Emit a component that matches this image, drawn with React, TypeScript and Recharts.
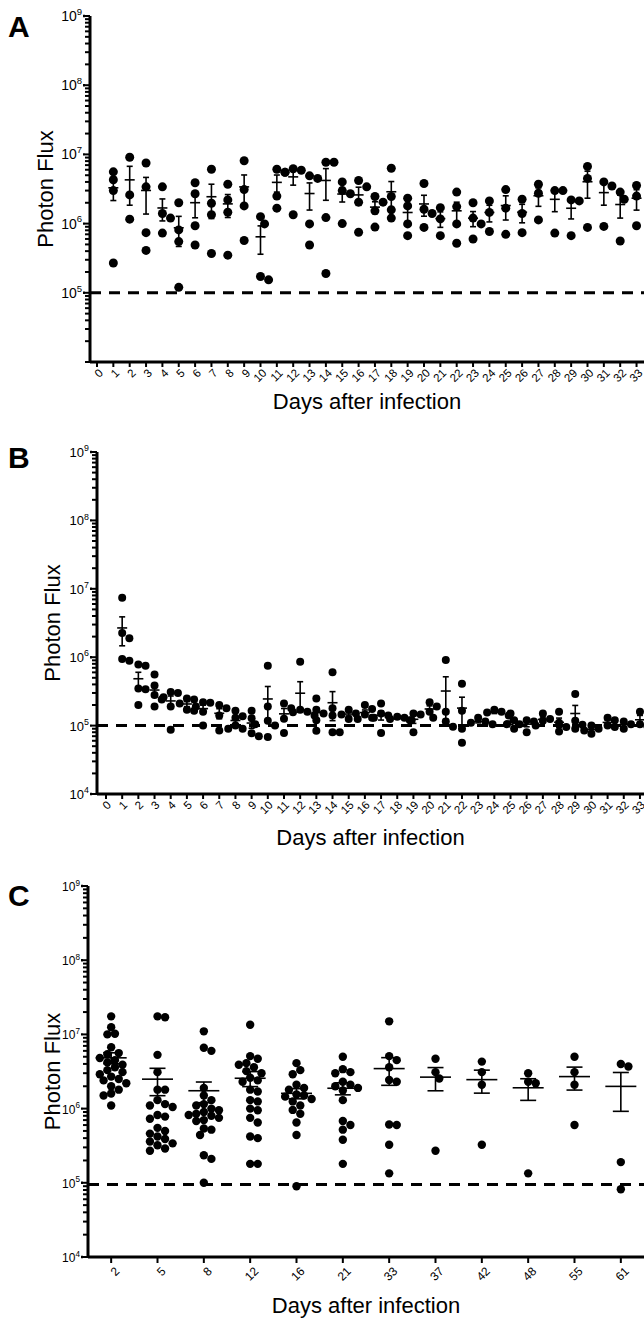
import { ScatterChart, Scatter, XAxis, YAxis, ReferenceLine, ErrorBar, Label } from 'recharts';

const FONT = '"Liberation Sans", Arial, Helvetica, sans-serif';

// Panel A: daily imaging, days 0-33
const daysA = Array.from({ length: 33 }, (_, i) => i + 1);
const ticksA = Array.from({ length: 34 }, (_, i) => i);
const fluxA = [
    [5.6e6, 4.3e6, 3.0e6, 2.7e5],
    [9.1e6, 2.6e6, 1.16e6],
    [7.5e6, 3.4e6, 7.4e5, 4.1e5],
    [3.4e6, 1.4e6, 1.2e6, 7.3e5],
    [2.0e6, 8.1e5, 5.5e5, 1.2e5],
    [3.9e6, 2.7e6, 9.3e5, 4.9e5],
    [6.1e6, 1.97e6, 1.34e6, 3.7e5],
    [3.7e6, 2.2e6, 1.46e6, 3.5e5],
    [8.1e6, 3.1e6, 1.8e6, 5.7e5],
    [1.26e6, 9.9e5, 1.72e5, 1.54e5],
    [6.1e6, 5.5e6, 2.5e6, 1.67e6],
    [6.2e6, 5.9e6, 5.5e6, 1.34e6],
    [4.9e6, 4.5e6, 9.9e5, 4.9e5],
    [7.7e6, 7.7e6, 1.22e6, 1.9e5],
    [4.0e6, 3.0e6, 2.7e6, 1.0e6],
    [4.2e6, 3.4e6, 2.04e6, 7.5e5],
    [2.46e6, 2.04e6, 1.53e6, 8.9e5],
    [6.3e6, 2.46e6, 1.58e6, 1.2e6],
    [2.33e6, 1.8e6, 9.9e5, 6.7e5],
    [3.8e6, 1.61e6, 1.4e6, 8.8e5],
    [1.7e6, 1.17e6, 6.7e5],
    [2.85e6, 1.76e6, 9.9e5, 5.2e5],
    [2.0e6, 1.2e6, 9.9e5, 6.0e5],
    [2.13e6, 1.45e6, 7.7e5],
    [3.1e6, 1.67e6, 7.0e5],
    [2.25e6, 1.4e6, 7.4e5],
    [3.7e6, 2.75e6, 1.13e6],
    [3.0e6, 3.0e6, 7.3e5],
    [2.2e6, 2.13e6, 6.7e5],
    [6.7e6, 4.5e6, 8.8e5],
    [4.0e6, 3.5e6, 9.1e5],
    [2.85e6, 2.25e6, 5.6e5],
    [3.55e6, 2.5e6, 9.3e5],
];

// Panel B: daily imaging, days 0-33
const daysB = Array.from({ length: 33 }, (_, i) => i + 1);
const ticksB = Array.from({ length: 34 }, (_, i) => i);
const fluxB = [
    [7.4e6, 2.26e6, 1.9e6, 9.4e5, 8.9e5],
    [7.8e5, 7.5e5, 3.5e5, 3.4e5, 2.0e5],
    [5.6e5, 3.85e5, 2.8e5, 2.4e5, 1.9e5],
    [3.1e5, 3.0e5, 2.6e5, 1.9e5, 8.7e4],
    [2.5e5, 2.4e5, 2.1e5, 1.7e5, 1.65e5],
    [2.2e5, 2.15e5, 1.9e5, 1.6e5, 1.0e5],
    [2.0e5, 1.8e5, 1.4e5, 8.5e4],
    [1.65e5, 1.37e5, 1.3e5, 1.0e5, 9.0e4, 9.0e4],
    [1.65e5, 1.28e5, 1.05e5, 7.7e4, 7.0e4],
    [7.5e5, 1.9e5, 1.18e5, 1.0e5, 6.8e4],
    [2.1e5, 1.8e5, 1.26e5, 7.8e4],
    [8.6e5, 1.7e5, 1.6e5, 1.57e5, 1.4e5],
    [2.5e5, 1.7e5, 1.5e5, 1.2e5, 8.4e4],
    [6.0e5, 1.8e5, 1.4e5, 8.0e4, 8.0e4],
    [1.7e5, 1.5e5, 1.45e5, 1.25e5],
    [2.0e5, 1.75e5, 1.45e5, 1.3e5, 1.25e5],
    [2.1e5, 1.5e5, 1.4e5, 1.3e5, 7.8e4],
    [1.35e5, 1.3e5, 1.25e5, 1.2e5],
    [1.5e5, 1.45e5, 1.2e5, 8.0e4],
    [2.2e5, 1.9e5, 1.6e5, 1.3e5],
    [9.1e5, 1.6e5, 1.15e5, 9.6e4],
    [4.1e5, 1.65e5, 9.0e4, 5.6e4],
    [1.3e5, 1.15e5, 1.1e5, 1.05e5],
    [1.7e5, 1.6e5, 1.55e5, 1.4e5],
    [1.5e5, 1.2e5, 1.05e5, 9.0e4],
    [1.2e5, 1.15e5, 1.05e5, 8.0e4],
    [1.5e5, 1.25e5, 1.18e5, 1.0e5],
    [1.6e5, 1.1e5, 9.5e4, 8.2e4],
    [2.9e5, 1.18e5, 1.03e5, 9.0e4],
    [1.0e5, 9.0e4, 8.5e4, 7.6e4],
    [1.3e5, 1.2e5, 1.0e5, 9.5e4],
    [1.15e5, 1.05e5, 9.0e4],
    [1.6e5, 1.05e5, 1.0e5],
];

// Panel C: selected days
const daysC = ['2', '5', '8', '12', '16', '21', '33', '37', '42', '48', '55', '61'];
const fluxC = [
    [1.75e7, 1.25e7, 1.02e7, 1.0e7, 6.7e6, 5.6e6, 5.4e6, 4.8e6, 4.5e6, 4.2e6, 3.9e6, 3.6e6,
        3.3e6, 3.1e6, 2.9e6, 2.7e6, 2.5e6, 2.4e6, 2.2e6, 2.0e6, 1.8e6, 1.6e6, 1.5e6, 1.1e6],
    [1.75e7, 1.7e7, 5.3e6, 3.1e6, 1.8e6, 1.8e6, 1.3e6, 1.15e6, 1.05e6, 1.1e6, 8.2e5, 7.8e5,
        7.3e5, 5.5e5, 5.0e5, 4.6e5, 4.2e5, 3.9e5, 3.6e5, 3.4e5, 3.2e5, 2.9e5, 2.7e5],
    [1.1e7, 6.6e6, 6.0e6, 1.9e6, 1.5e6, 1.3e6, 1.15e6, 1.1e6, 1.0e6, 9.5e5, 9.0e5, 8.5e5,
        8.2e5, 8.0e5, 7.5e5, 7.0e5, 6.8e5, 5.4e5, 5.2e5, 4.4e5, 2.35e5, 2.1e5, 1.0e5],
    [1.35e7, 5.1e6, 4.7e6, 4.1e6, 3.9e6, 3.6e6, 3.2e6, 3.0e6, 2.6e6, 2.4e6, 2.3e6, 1.8e6,
        1.7e6, 1.3e6, 1.25e6, 1.0e6, 9.5e5, 7.5e5, 6.5e5, 4.2e5, 4.0e5, 1.8e5, 1.8e5],
    [4.1e6, 3.3e6, 2.9e6, 2.1e6, 1.9e6, 1.8e6, 1.55e6, 1.5e6, 1.45e6, 1.35e6, 1.25e6, 1.1e6,
        9.6e5, 8.5e5, 6.5e5, 4.4e5, 9.0e4],
    [5.0e6, 3.4e6, 3.1e6, 3.0e6, 2.3e6, 2.1e6, 2.0e6, 1.9e6, 1.75e6, 1.3e6, 6.8e5, 6.0e5,
        5.2e5, 3.8e5, 1.8e5],
    [1.5e7, 5.1e6, 4.5e6, 3.6e6, 2.43e6, 2.3e6, 6.1e5, 6.0e5, 3.25e5, 1.34e5],
    [4.7e6, 3.1e6, 2.55e6, 2.7e5],
    [4.3e6, 3.1e6, 2.1e6, 3.25e5],
    [3.0e6, 2.3e6, 2.2e6, 1.34e5],
    [5.0e6, 3.1e6, 2.1e6, 6.0e5],
    [4.0e6, 3.7e6, 1.9e5, 8.2e4],
];

const WIDTH = 644;

// log ticks: 1..9 x 10^4 .. 10^8, plus 10^9
const yTicks: number[] = [];
for (let p = 4; p < 9; p++) for (let m = 1; m < 10; m++) yTicks.push(m * Math.pow(10, p));
yTicks.push(1e9);

function stats(vals: number[]) {
    const n = vals.length;
    const mean = vals.reduce((a, b) => a + b, 0) / n;
    const sd = Math.sqrt(vals.reduce((a, b) => a + (b - mean) ** 2, 0) / (n - 1));
    return { mean, sem: sd / Math.sqrt(n) };
}

// simple beeswarm so overlapping dots spread sideways like the original
function swarm(vals: number[], r: number, pxDec: number, pxUnit: number) {
    const order = vals.map((_, i) => i).sort((a, b) => vals[b] - vals[a]);
    const placed: { dx: number; py: number }[] = [];
    const out = new Array(vals.length).fill(0);
    const minD = r * 1.7;
    for (const i of order) {
        const py = -Math.log10(vals[i]) * pxDec;
        let dx = 0;
        for (let k = 0; k < 60; k++) {
            const cand = k === 0 ? 0 : (k % 2 ? 1 : -1) * Math.ceil(k / 2) * r * 0.9;
            if (placed.every(p => (p.dx - cand) ** 2 + (p.py - py) ** 2 >= minD * minD)) {
                dx = cand;
                break;
            }
        }
        placed.push({ dx, py });
        out[i] = dx / pxUnit;
    }
    return out;
}

interface PanelProps {
    letter: string;
    top: number;
    height: number;
    plotTop: number;
    plotHeight: number;
    axisWidth: number;
    xAxisHeight: number;
    xDomain: [number, number];
    xTicks: number[];
    xLabels?: string[];
    groupX: number[];
    groups: number[][];
    minLabel: number;
    dotR: number;
    meanHalf: number;
    capHalf: number;
    limit: number;
    titleOffset: number;
    fluxX: number;
    yFont: number;
    xFont: number;
    xTickLen: number;
    xLabelDx: number;
    xTickMargin: number;
    letterTop: number;
}

function Panel(p: PanelProps) {
    const pxUnit = (WIDTH - p.axisWidth) / (p.xDomain[1] - p.xDomain[0]);
    const pxDec = p.plotHeight / 5;

    const points = p.groups.flatMap((vals, gi) => {
        const offs = swarm(vals, p.dotR, pxDec, pxUnit);
        return vals.map((v, j) => ({ x: p.groupX[gi] + offs[j], y: v }));
    });
    const means = p.groups.map((vals, gi) => {
        const s = stats(vals);
        return { x: p.groupX[gi], y: s.mean, err: s.sem };
    });

    // tick lines come from the axis itself; this draws the 10^n labels only
    const YTick = (props: any) => {
        const { x, y, payload } = props;
        const lg = Math.log10(payload.value);
        const pw = Math.round(lg);
        const major = Math.abs(lg - pw) < 1e-6;
        if (!major || pw < p.minLabel) return <g />;
        return (
            <g>
                <line x1={x + 2} x2={x} y1={y} y2={y} stroke="#000" strokeWidth={2.4} />
                <text x={x - 1} y={y + 5} textAnchor="end" fontSize={p.yFont} fontFamily={FONT} fill="#000">
                    10<tspan dy={-p.yFont * 0.45} fontSize={p.yFont * 0.68}>{pw}</tspan>
                </text>
            </g>
        );
    };

    const dotShape = (s: any) => <circle cx={s.cx} cy={s.cy} r={p.dotR} fill="#000" />;
    const meanShape = (s: any) => (
        <line x1={s.cx - p.meanHalf} x2={s.cx + p.meanHalf} y1={s.cy} y2={s.cy} stroke="#000" strokeWidth={1.6} />
    );

    return (
        <div style={{ position: 'absolute', left: 0, top: p.top, width: WIDTH, height: p.height }}>
            <ScatterChart
                width={WIDTH}
                height={p.height}
                margin={{ top: p.plotTop, right: 0, bottom: 0, left: 0 }}
            >
                <XAxis
                    type="number"
                    dataKey="x"
                    domain={p.xDomain}
                    ticks={p.xTicks}
                    interval={0}
                    allowDataOverflow
                    height={p.xAxisHeight}
                    axisLine={{ stroke: '#000', strokeWidth: 3 }}
                    tickLine={{ stroke: '#000', strokeWidth: 2 }}
                    tickSize={p.xTickLen}
                    tickMargin={p.xTickMargin}
                    angle={-45}
                    textAnchor="end"
                    tickFormatter={(v: number) => (p.xLabels ? p.xLabels[v] : String(v))}
                    tick={{ fontSize: p.xFont, fill: '#000', fontFamily: FONT, dx: p.xLabelDx }}
                >
                    <Label
                        value="Days after infection"
                        position="insideBottom"
                        offset={p.titleOffset}
                        fontSize={22}
                        fontFamily={FONT}
                        fill="#000"
                    />
                </XAxis>
                <YAxis
                    type="number"
                    dataKey="y"
                    scale="log"
                    domain={[1e4, 1e9]}
                    allowDataOverflow
                    ticks={yTicks}
                    interval={0}
                    width={p.axisWidth}
                    axisLine={{ stroke: '#000', strokeWidth: 3 }}
                    tickLine={{ stroke: '#000', strokeWidth: 2 }}
                    tickSize={5}
                    tickMargin={2}
                    tick={YTick}
                >
                    <Label
                        content={(lp: any) => {
                            const vb = lp.viewBox;
                            const cy = vb.y + vb.height / 2;
                            return (
                                <text
                                    transform={`translate(${p.fluxX}, ${cy}) rotate(-90)`}
                                    textAnchor="middle"
                                    fontSize={22}
                                    fontFamily={FONT}
                                    fill="#000"
                                >
                                    Photon Flux
                                </text>
                            );
                        }}
                    />
                </YAxis>
                <ReferenceLine y={p.limit} stroke="#000" strokeWidth={3} strokeDasharray="11 8" />
                <Scatter data={points} shape={dotShape} isAnimationActive={false} />
                <Scatter data={means} shape={meanShape} isAnimationActive={false}>
                    <ErrorBar dataKey="err" direction="y" width={p.capHalf} stroke="#000" strokeWidth={1.6} />
                </Scatter>
            </ScatterChart>
            <div
                style={{
                    position: 'absolute',
                    left: 8,
                    top: p.letterTop,
                    fontFamily: FONT,
                    fontWeight: 700,
                    fontSize: 30,
                    lineHeight: '30px',
                    color: '#000',
                }}
            >
                {p.letter}
            </div>
        </div>
    );
}

export default function App() {
    return (
        <div
            style={{
                position: 'absolute',
                left: 0,
                top: 0,
                width: WIDTH,
                height: 1319,
                overflow: 'hidden',
                background: '#fff',
            }}
        >
            <Panel
                letter="A"
                top={0}
                height={422}
                plotTop={16}
                plotHeight={346}
                axisWidth={90}
                xAxisHeight={60}
                xDomain={[-0.428, 33.456]}
                xTicks={ticksA}
                groupX={daysA}
                groups={fluxA}
                minLabel={5}
                dotR={4.5}
                meanHalf={5}
                capHalf={3}
                limit={1e5}
                titleOffset={13}
                fluxX={53}
                yFont={14}
                xFont={11.5}
                xTickLen={5}
                xLabelDx={1}
                xTickMargin={1}
                letterTop={12}
            />
            <Panel
                letter="B"
                top={436}
                height={418}
                plotTop={16}
                plotHeight={342}
                axisWidth={97}
                xAxisHeight={60}
                xDomain={[-0.556, 33.25]}
                xTicks={ticksB}
                groupX={daysB}
                groups={fluxB}
                minLabel={4}
                dotR={4}
                meanHalf={5}
                capHalf={3}
                limit={1e5}
                titleOffset={9}
                fluxX={60}
                yFont={13}
                xFont={11.5}
                xTickLen={5}
                xLabelDx={0}
                xTickMargin={1}
                letterTop={7}
            />
            <Panel
                letter="C"
                top={870}
                height={450}
                plotTop={16}
                plotHeight={371}
                axisWidth={88}
                xAxisHeight={63}
                xDomain={[-0.5, 11.5]}
                xTicks={daysC.map((_, i) => i)}
                xLabels={daysC}
                groupX={daysC.map((_, i) => i)}
                groups={fluxC}
                minLabel={4}
                dotR={4.2}
                meanHalf={15.5}
                capHalf={8}
                limit={9.5e4}
                titleOffset={7}
                fluxX={60}
                yFont={12}
                xFont={12}
                xTickLen={6}
                xLabelDx={3}
                xTickMargin={3}
                letterTop={11}
            />
        </div>
    );
}
